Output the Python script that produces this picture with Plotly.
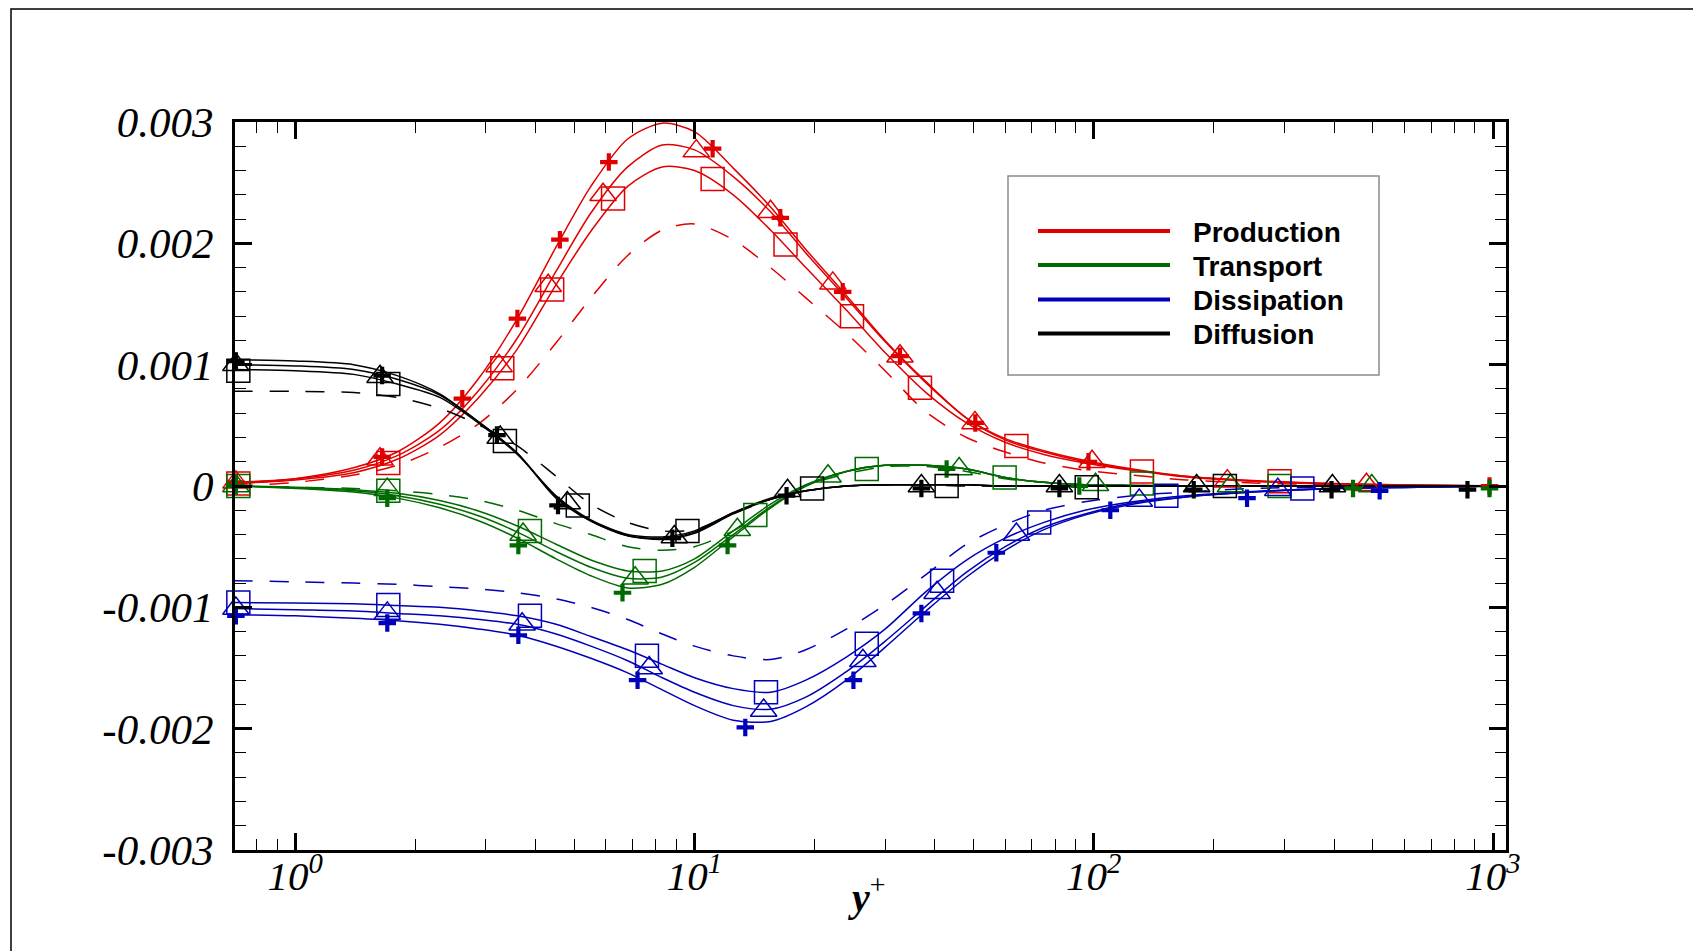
import plotly.graph_objects as go

# ---------------- data (budget terms in units of 1e-3) ----------------
yplus = [0.7, 1.0, 1.4, 1.8, 2.3, 2.9, 3.6, 4.5, 5.5, 6.8, 8.3, 10, 12.5, 15.5,
         19, 24, 30, 38, 48, 60, 75, 95, 125, 170, 250, 400, 650, 1070]

prod_a = [0.02, 0.06, 0.15, 0.28, 0.52, 0.90, 1.38, 1.97, 2.47, 2.86, 2.99, 2.92, 2.62, 2.30,
          1.95, 1.57, 1.20, 0.86, 0.56, 0.39, 0.29, 0.21, 0.14, 0.08, 0.045, 0.02, 0.008, 0.0]
prod_b = [0.03, 0.06, 0.13, 0.25, 0.46, 0.80, 1.22, 1.77, 2.25, 2.63, 2.81, 2.77, 2.55, 2.26,
          1.92, 1.55, 1.19, 0.85, 0.56, 0.38, 0.28, 0.20, 0.135, 0.08, 0.042, 0.018, 0.007, 0.0]
prod_c = [0.02, 0.05, 0.11, 0.22, 0.42, 0.74, 1.13, 1.66, 2.10, 2.47, 2.63, 2.60, 2.40, 2.11,
          1.80, 1.45, 1.10, 0.77, 0.52, 0.36, 0.26, 0.19, 0.13, 0.075, 0.04, 0.016, 0.006, 0.0]
prod_d = [0.0, 0.03, 0.09, 0.17, 0.32, 0.52, 0.80, 1.18, 1.55, 1.90, 2.11, 2.16, 2.03, 1.80,
          1.55, 1.26, 0.95, 0.61, 0.40, 0.28, 0.19, 0.13, 0.09, 0.05, 0.025, 0.01, 0.003, 0.0]

tran_a = [0.0, -0.02, -0.05, -0.10, -0.18, -0.29, -0.43, -0.60, -0.74, -0.84, -0.81, -0.67, -0.42, -0.18,
          0.0, 0.12, 0.17, 0.17, 0.14, 0.07, 0.03, 0.01, 0.005, 0.0, 0.0, 0.0, 0.0, 0.0]
tran_b = [0.0, -0.015, -0.04, -0.08, -0.15, -0.25, -0.38, -0.54, -0.67, -0.76, -0.75, -0.63, -0.40, -0.17,
          0.0, 0.12, 0.17, 0.17, 0.14, 0.07, 0.03, 0.01, 0.005, 0.0, 0.0, 0.0, 0.0, 0.0]
tran_c = [0.0, -0.01, -0.03, -0.06, -0.12, -0.21, -0.33, -0.48, -0.61, -0.70, -0.70, -0.60, -0.37, -0.15,
          0.01, 0.12, 0.17, 0.17, 0.14, 0.07, 0.03, 0.01, 0.005, 0.0, 0.0, 0.0, 0.0, 0.0]
tran_d = [0.0, -0.01, -0.02, -0.04, -0.07, -0.12, -0.20, -0.31, -0.40, -0.50, -0.53, -0.50, -0.37, -0.18,
          0.0, 0.10, 0.16, 0.16, 0.12, 0.06, 0.03, 0.01, 0.005, 0.0, 0.0, 0.0, 0.0, 0.0]

diff_a = [1.04, 1.03, 1.00, 0.91, 0.76, 0.52, 0.27, -0.10, -0.29, -0.41, -0.44, -0.39, -0.23, -0.11,
          -0.04, 0.0, 0.01, 0.01, 0.01, 0.0, 0.0, 0.0, 0.0, 0.0, 0.0, 0.0, 0.0, 0.0]
diff_b = [1.00, 0.99, 0.96, 0.88, 0.75, 0.52, 0.27, -0.09, -0.29, -0.41, -0.43, -0.38, -0.22, -0.11,
          -0.04, 0.0, 0.01, 0.01, 0.01, 0.0, 0.0, 0.0, 0.0, 0.0, 0.0, 0.0, 0.0, 0.0]
diff_c = [0.96, 0.95, 0.92, 0.84, 0.73, 0.51, 0.26, -0.08, -0.28, -0.40, -0.42, -0.37, -0.22, -0.10,
          -0.04, 0.0, 0.01, 0.01, 0.01, 0.0, 0.0, 0.0, 0.0, 0.0, 0.0, 0.0, 0.0, 0.0]
diff_d = [0.78, 0.78, 0.77, 0.73, 0.64, 0.50, 0.33, 0.08, -0.15, -0.30, -0.37, -0.36, -0.23, -0.11,
          -0.04, 0.0, 0.01, 0.01, 0.0, 0.0, 0.0, 0.0, 0.0, 0.0, 0.0, 0.0, 0.0, 0.0]

diss_a = [-1.06, -1.07, -1.09, -1.11, -1.14, -1.18, -1.23, -1.32, -1.42, -1.54, -1.68, -1.81, -1.93, -1.94,
          -1.82, -1.60, -1.33, -1.03, -0.75, -0.53, -0.36, -0.24, -0.15, -0.09, -0.05, -0.02, -0.01, 0.0]
diss_b = [-1.01, -1.02, -1.03, -1.05, -1.07, -1.10, -1.14, -1.22, -1.32, -1.44, -1.58, -1.70, -1.81, -1.84,
          -1.74, -1.53, -1.28, -0.99, -0.71, -0.50, -0.34, -0.23, -0.14, -0.09, -0.05, -0.02, -0.01, 0.0]
diss_c = [-0.96, -0.965, -0.97, -0.985, -1.0, -1.03, -1.07, -1.14, -1.24, -1.35, -1.47, -1.58, -1.67, -1.70,
          -1.60, -1.41, -1.18, -0.87, -0.61, -0.43, -0.30, -0.20, -0.13, -0.08, -0.045, -0.02, -0.01, 0.0]
diss_d = [-0.78, -0.79, -0.80, -0.81, -0.83, -0.85, -0.88, -0.93, -1.00, -1.10, -1.22, -1.32, -1.40, -1.43,
          -1.35, -1.18, -0.98, -0.73, -0.48, -0.32, -0.20, -0.13, -0.08, -0.05, -0.02, -0.01, 0.0, 0.0]

# symbols (sampled points of the three solid-line cases)
prod_plus_x = [0.71, 1.65, 2.62, 3.6, 4.6, 6.1, 11.1, 16.4, 23.5, 32.7, 50.5, 97, 980]
prod_plus_y = [0.03, 0.24, 0.72, 1.38, 2.03, 2.67, 2.78, 2.21, 1.60, 1.07, 0.52, 0.20, 0.0]
prod_tri_x = [0.71, 1.63, 3.24, 4.3, 5.9, 10.1, 15.5, 22.2, 32.7, 50.4, 99, 216, 482]
prod_tri_y = [0.03, 0.22, 0.99, 1.65, 2.40, 2.76, 2.26, 1.67, 1.07, 0.52, 0.20, 0.04, 0.01]
prod_sq_x = [0.72, 1.71, 3.3, 4.4, 6.25, 11.1, 16.9, 24.8, 36.7, 64, 132, 292]
prod_sq_y = [0.02, 0.19, 0.97, 1.62, 2.37, 2.53, 1.99, 1.40, 0.81, 0.33, 0.12, 0.04]

tran_plus_x = [0.71, 1.7, 3.62, 6.6, 12.1, 42.8, 92, 446, 980]
tran_plus_y = [0.0, -0.10, -0.49, -0.88, -0.49, 0.14, 0.0, -0.02, -0.02]
tran_tri_x = [0.71, 1.7, 3.72, 7.1, 12.8, 21.6, 46, 101, 220, 497]
tran_tri_y = [0.0, -0.03, -0.40, -0.76, -0.36, 0.08, 0.14, 0.01, 0.0, 0.0]
tran_sq_x = [0.72, 1.71, 3.87, 7.5, 14.2, 27, 59.8, 132, 292]
tran_sq_y = [0.0, -0.04, -0.37, -0.70, -0.24, 0.14, 0.07, 0.02, 0.0]

diff_plus_x = [0.71, 1.65, 3.2, 4.55, 8.8, 17, 37, 82, 178, 394, 863]
diff_plus_y = [1.03, 0.91, 0.42, -0.16, -0.43, -0.08, -0.02, -0.02, -0.03, -0.03, -0.03]
diff_tri_x = [0.71, 1.63, 3.26, 4.8, 8.9, 17.1, 37, 82, 181, 396]
diff_tri_y = [1.00, 0.90, 0.40, -0.14, -0.42, -0.04, 0.0, 0.0, 0.0, 0.0]
diff_sq_x = [0.72, 1.71, 3.35, 5.1, 9.6, 19.7, 42.8, 96, 213]
diff_sq_y = [0.95, 0.84, 0.37, -0.16, -0.37, -0.02, 0.0, -0.01, 0.0]

diss_plus_x = [0.71, 1.7, 3.62, 7.2, 13.4, 25, 37, 57, 110, 242, 520]
diss_plus_y = [-1.07, -1.13, -1.23, -1.60, -1.99, -1.60, -1.05, -0.55, -0.20, -0.10, -0.04]
diss_tri_x = [0.71, 1.7, 3.7, 7.7, 14.9, 26.4, 40.5, 64, 130, 289]
diss_tri_y = [-1.01, -1.05, -1.14, -1.50, -1.85, -1.44, -0.88, -0.40, -0.12, -0.03]
diss_sq_x = [0.72, 1.71, 3.87, 7.6, 15.1, 27, 41.7, 73, 152, 333]
diss_sq_y = [-0.96, -0.98, -1.07, -1.40, -1.70, -1.30, -0.78, -0.30, -0.08, -0.02]

term_names = ["Production", "Transport", "Dissipation", "Diffusion"]
term_colors = ["#e00000", "#006a00", "#0000b8", "#000000"]

x_tick_vals = [1, 10, 100, 1000]
x_tick_text = ["10<sup>0</sup>", "10<sup>1</sup>", "10<sup>2</sup>", "10<sup>3</sup>"]
x_minor_vals = [0.8, 0.9, 2, 3, 4, 5, 6, 7, 8, 9, 20, 30, 40, 50, 60, 70, 80, 90,
                200, 300, 400, 500, 600, 700, 800, 900]
y_tick_vals = [-0.003, -0.002, -0.001, 0, 0.001, 0.002, 0.003]
y_tick_text = ["-0.003", "-0.002", "-0.001", "0", "0.001", "0.002", "0.003"]

SCALE = 1e-3

curves = {
    "Production": (prod_a, prod_b, prod_c, prod_d),
    "Transport": (tran_a, tran_b, tran_c, tran_d),
    "Dissipation": (diss_a, diss_b, diss_c, diss_d),
    "Diffusion": (diff_a, diff_b, diff_c, diff_d),
}
symbols = {
    "Production": [(prod_plus_x, prod_plus_y), (prod_tri_x, prod_tri_y), (prod_sq_x, prod_sq_y)],
    "Transport": [(tran_plus_x, tran_plus_y), (tran_tri_x, tran_tri_y), (tran_sq_x, tran_sq_y)],
    "Dissipation": [(diss_plus_x, diss_plus_y), (diss_tri_x, diss_tri_y), (diss_sq_x, diss_sq_y)],
    "Diffusion": [(diff_plus_x, diff_plus_y), (diff_tri_x, diff_tri_y), (diff_sq_x, diff_sq_y)],
}
marker_styles = [
    dict(symbol="cross-thin-open", size=12.5, lw=4.2),
    dict(symbol="triangle-up-open", size=23, lw=1.5),
    dict(symbol="square-open", size=23, lw=1.5),
]

fig = go.Figure()

for name, color in zip(term_names, term_colors):
    a, b, c, d = curves[name]
    for vals in (a, b, c):
        fig.add_trace(go.Scatter(
            x=yplus, y=[v * SCALE for v in vals], mode="lines",
            line=dict(color=color, width=1.5, shape="spline", smoothing=0.8),
            showlegend=False, hoverinfo="skip"))
    fig.add_trace(go.Scatter(
        x=yplus, y=[v * SCALE for v in d], mode="lines",
        line=dict(color=color, width=1.5, dash="19px,17px", shape="spline", smoothing=0.8),
        showlegend=False, hoverinfo="skip"))

for name, color in zip(term_names, term_colors):
    for (mx, my), st in zip(symbols[name], marker_styles):
        fig.add_trace(go.Scatter(
            x=mx, y=[v * SCALE for v in my], mode="markers", cliponaxis=False,
            marker=dict(symbol=st["symbol"], size=st["size"], color=color,
                        line=dict(color=color, width=st["lw"])),
            showlegend=False, hoverinfo="skip"))

# ---------------- layout ----------------
OFF = 8                      # page (body) margin of the html page
W, H = 1701 - OFF, 951 - OFF
SL, SR, ST, SB = 235, 1506, 122, 850     # plot-area edges on screen
L, T = SL - OFF, ST - OFF
R, B = W - (SR - OFF), H - (SB - OFF)
pw, ph = SR - SL, SB - ST


def px(xs):
    return (xs - SL) / pw


def py(ys):
    return (SB - ys) / ph


y_font = dict(family="Liberation Serif", size=43, color="black", style="italic")
x_font = dict(family="Liberation Serif", size=41, color="black", style="italic")

fig.update_layout(
    width=W, height=H,
    margin=dict(l=L, r=R, t=T, b=B, pad=0),
    paper_bgcolor="white", plot_bgcolor="white",
    showlegend=False,
    xaxis=dict(
        type="log", range=[-0.151, 3.0325],
        showline=True, linewidth=3, linecolor="black", mirror="ticks",
        ticks="inside", ticklen=17, tickwidth=2.5, tickcolor="black",
        tickmode="array", tickvals=x_tick_vals, ticktext=x_tick_text,
        tickfont=x_font, ticklabelstandoff=-12, showgrid=False, zeroline=False,
        minor=dict(ticks="inside", ticklen=11, tickwidth=1.2, tickcolor="black",
                   tickmode="array", tickvals=x_minor_vals, showgrid=False),
    ),
    yaxis=dict(
        range=[-0.003, 0.003],
        showline=True, linewidth=3, linecolor="black", mirror="ticks",
        ticks="inside", ticklen=17, tickwidth=2.5, tickcolor="black",
        tickmode="array", tickvals=y_tick_vals, ticktext=y_tick_text,
        tickfont=y_font, ticklabelstandoff=10, showgrid=False, zeroline=False,
        minor=dict(ticks="inside", ticklen=11, tickwidth=1.2, tickcolor="black",
                   dtick=0.0002, tick0=0, showgrid=False),
    ),
)

shapes = []
annotations = []

# page frame (top edge kept just inside the figure)
shapes.append(dict(type="rect", xref="paper", yref="paper",
                   x0=px(11), x1=px(1720), y0=py(970), y1=py(OFF + 1),
                   line=dict(color="black", width=1.5), fillcolor="rgba(0,0,0,0)", layer="below"))

# legend box
shapes.append(dict(type="rect", xref="paper", yref="paper",
                   x0=px(1008), x1=px(1379), y0=py(375), y1=py(176),
                   line=dict(color="#8a8a8a", width=1.5), fillcolor="white", layer="above"))
row_y = [231, 265, 299.5, 333.5]
for name, color, ry in zip(term_names, term_colors, row_y):
    shapes.append(dict(type="line", xref="paper", yref="paper",
                       x0=px(1038), x1=px(1170), y0=py(ry), y1=py(ry),
                       line=dict(color=color, width=4), layer="above"))
    annotations.append(dict(xref="paper", yref="paper", x=px(1191), y=py(ry + 1),
                            xanchor="left", yanchor="middle", showarrow=False,
                            text="<b>" + name + "</b>",
                            font=dict(family="Liberation Sans", size=28, color="black")))

# x-axis title
annotations.append(dict(xref="paper", yref="paper", x=px(867), y=py(894),
                        xanchor="center", yanchor="middle", showarrow=False,
                        text="<b><i>y</i></b><sup>+</sup>",
                        font=dict(family="Liberation Serif", size=40, color="black")))

fig.update_layout(shapes=shapes, annotations=annotations)

fig.write_html("out.html")
